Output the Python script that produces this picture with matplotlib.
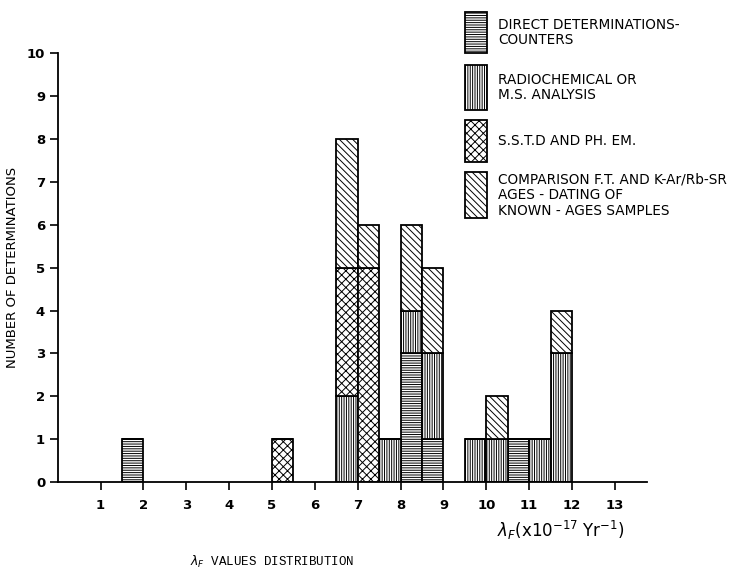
import matplotlib
matplotlib.use("Agg")
import matplotlib.pyplot as plt
from matplotlib.patches import Rectangle
import numpy as np

plt.rcParams['hatch.linewidth'] = 0.7

# Data
bin_left = [1.5, 5.0, 6.5, 7.0, 7.5, 8.0, 8.5, 9.5, 10.0, 10.5, 11.0, 11.5]
counters = [1, 0, 0, 0, 0, 3, 1, 0, 0, 1, 0, 0]
radiochem = [0, 0, 2, 0, 1, 1, 2, 1, 1, 0, 1, 3]
sstd = [0, 1, 3, 5, 0, 0, 0, 0, 0, 0, 0, 0]
comparison = [0, 0, 3, 1, 0, 2, 2, 0, 1, 0, 0, 1]
series_labels = ["DIRECT DETERMINATIONS-\nCOUNTERS",
                 "RADIOCHEMICAL OR\nM.S. ANALYSIS",
                 "S.S.T.D AND PH. EM.",
                 "COMPARISON F.T. AND K-Ar/Rb-SR\nAGES - DATING OF\nKNOWN - AGES SAMPLES"]
x_ticks = list(range(1, 14))
y_ticks = list(range(0, 11))

hatches = ['-------', '|||||||', 'xxxx', '\\\\\\\\\\']
series = [counters, radiochem, sstd, comparison]

fig = plt.figure(figsize=(7.55, 5.74), dpi=100)
ax = fig.add_axes([0.0764, 0.160, 0.857 - 0.0764, 0.7474])

bottom = np.zeros(len(bin_left))
for vals, h in zip(series, hatches):
    vals = np.array(vals, dtype=float)
    ax.bar(bin_left, vals, width=0.5, bottom=bottom, align='edge',
           facecolor='white', edgecolor='black', hatch=h, linewidth=1.3)
    bottom += vals

ax.set_xlim(0, 13.75)
ax.set_ylim(0, 10)
ax.spines['top'].set_visible(False)
ax.spines['right'].set_visible(False)
ax.spines['left'].set_linewidth(1.3)
ax.spines['bottom'].set_linewidth(1.3)
ax.set_xticks(x_ticks)
ax.set_yticks(y_ticks)
ax.tick_params(axis='both', direction='out', length=6, width=1.2,
               labelsize=9.5)
ax.tick_params(axis='y', pad=3)
ax.tick_params(axis='x', pad=6)
for lab in ax.get_xticklabels() + ax.get_yticklabels():
    lab.set_fontweight('bold')

ax.set_ylabel("NUMBER OF DETERMINATIONS", fontsize=9.5)
ax.yaxis.set_label_coords(-0.066, 0.5)
fig.text(497 / 755, 1 - 530 / 574, r"$\lambda_F$(x10$^{-17}$ Yr$^{-1}$)",
         fontsize=12, ha='left', va='center')
fig.text(190 / 755, 1 - 562 / 574, r"$\lambda_F$ VALUES DISTRIBUTION",
         fontsize=9, family='Liberation Mono', ha='left', va='center')

# Legend (manual)
rows = [(12, 53), (65, 110), (120, 162), (172, 218)]
W, H = 755, 574
for (y0, y1), h, lab in zip(rows, hatches, series_labels):
    r = Rectangle((465 / W, 1 - y1 / H), 22 / W, (y1 - y0) / H,
                  transform=fig.transFigure, facecolor='white',
                  edgecolor='black', hatch=h, linewidth=1.3)
    fig.patches.append(r)
    fig.text(498 / W, 1 - ((y0 + y1) / 2) / H, lab, fontsize=9.8,
             ha='left', va='center', linespacing=1.15)

fig.savefig("out.png", dpi=100)
